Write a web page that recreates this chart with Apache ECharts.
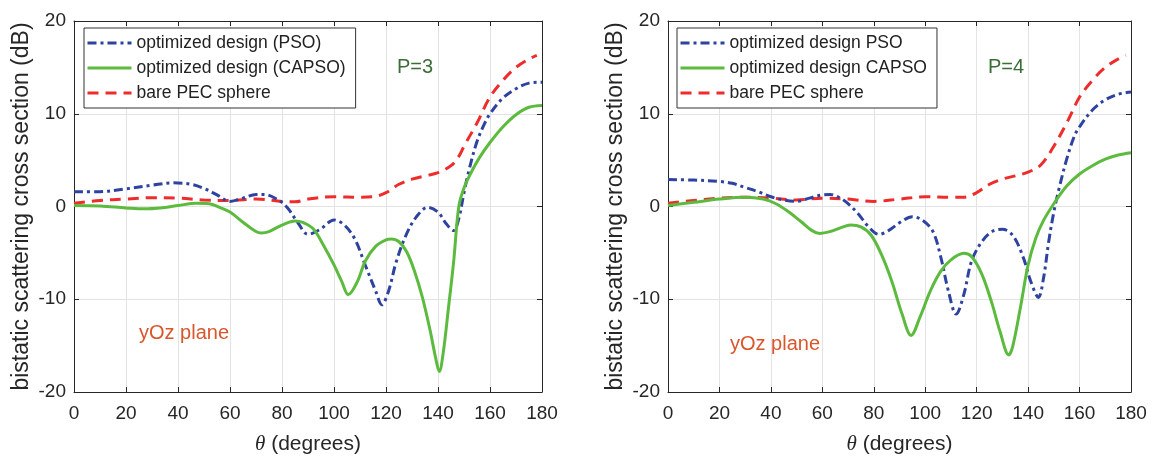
<!DOCTYPE html>
<html>
<head>
<meta charset="utf-8">
<script src="https://cdn.jsdelivr.net/npm/echarts@6/dist/echarts.min.js"></script>
<style>
html,body{margin:0;padding:0;background:#fff;}
#c{width:1153px;height:460px;}
</style>
</head>
<body>
<div id="c"></div>
<script>
// ---- data (theta in degrees, values in dB) ----
const xTicks = [0, 20, 40, 60, 80, 100, 120, 140, 160, 180];
const yTicks = [-20, -10, 0, 10, 20];

// Panel 1 (P=3)
const p3PsoTheta = [0,10,20,30,38,45,50,55,60,65,70,73,78,82,86,90,95,100,104,108,112,116,118.4,121,124,128,132,136,140,143,146,148,150,152,155,158,160,165,170,175,180];
const p3PsoVal   = [1.6,1.6,1.9,2.3,2.55,2.4,1.95,1.25,0.55,0.9,1.3,1.3,0.8,-0.1,-1.7,-3.0,-2.4,-1.45,-2.0,-3.5,-6.3,-9.1,-10.6,-9.1,-5.9,-2.9,-1.0,-0.1,-0.6,-1.8,-2.6,-1.3,1.5,4.0,7.0,9.0,10.0,11.7,12.7,13.3,13.4];

const p3CapsoTheta = [0,10,20,27,35,40,47,52,56,60,65,70,72,75,80,85,88,92,96,100,103,105.5,109,112,116,120,122,125,128,131,134,137,139,140.5,142,144,146,148,150,153,156,160,165,170,175,180];
const p3CapsoVal   = [0.1,0.05,-0.15,-0.25,-0.1,0.1,0.35,0.3,-0.1,-0.6,-1.7,-2.7,-2.85,-2.7,-2.0,-1.55,-1.7,-2.4,-4.2,-6.3,-8.1,-9.5,-8.1,-5.9,-4.3,-3.6,-3.5,-3.8,-4.9,-7.0,-9.8,-13.4,-16.2,-17.8,-15.8,-11.0,-6.0,0.0,2.0,3.8,5.3,6.9,8.6,9.9,10.7,10.9];

const p3PecTheta = [0,10,20,30,40,50,60,70,80,85,90,100,110,115,120,125,130,135,140,145,148,150,155,160,165,170,175,178];
const p3PecVal   = [0.35,0.65,0.8,0.95,0.9,0.7,0.65,0.8,0.55,0.5,0.8,1.05,1.0,1.05,1.5,2.4,2.95,3.3,3.65,4.4,5.4,6.5,9.0,11.8,13.6,15.0,15.9,16.3];

// Panel 2 (P=4)
const p4PsoTheta = [0,10,20,25,30,35,40,45,50,55,60,63,67,70,74,78,82,86,90,95,99,103,106,109,112,115,118,122,126,130,134,138,141,144,146,148,150,152,155,158,160,165,170,175,180];
const p4PsoVal   = [2.9,2.85,2.7,2.5,2.05,1.6,1.05,0.7,0.55,0.9,1.25,1.3,0.9,0.3,-0.8,-2.2,-3.0,-2.55,-1.75,-1.1,-1.5,-2.7,-5.4,-9.1,-11.6,-9.5,-5.9,-3.8,-2.7,-2.45,-3.1,-5.4,-8.05,-9.8,-7.7,-3.8,-0.6,1.9,5.1,7.6,8.6,10.4,11.5,12.1,12.35];

const p4CapsoTheta = [0,10,20,30,37,42,47,52,56,59,63,67,71,75,79,83,87,91,94.5,98,102,106,110,115,118,122,126,129,132.5,134,137,140,143,146,150,155,160,165,170,175,180];
const p4CapsoVal   = [0.1,0.45,0.8,1.0,0.8,0.3,-0.6,-1.7,-2.6,-2.9,-2.7,-2.3,-2.0,-2.2,-3.1,-5.2,-8.05,-11.6,-13.9,-11.9,-9.1,-7.0,-5.75,-5.05,-5.4,-7.3,-10.5,-13.4,-16.0,-15.1,-10.9,-6.3,-3.4,-1.5,0.3,2.2,3.5,4.4,5.1,5.55,5.8];

const p4PecTheta = [0,10,20,30,40,50,60,70,80,90,100,110,115,120,125,130,135,140,145,150,155,160,165,170,175,178];
const p4PecVal   = [0.35,0.65,0.9,1.0,0.9,0.7,0.9,0.8,0.55,0.8,1.05,1.0,1.0,1.5,2.4,2.95,3.3,3.7,4.5,6.5,9.0,11.8,13.6,15.0,15.9,16.3];

const legendP3 = ['optimized design (PSO)', 'optimized design (CAPSO)', 'bare PEC sphere'];
const legendP4 = ['optimized design PSO', 'optimized design CAPSO', 'bare PEC sphere'];

// ---- styles ----
const FONT = '"Liberation Sans", Arial, Helvetica, sans-serif';
const AX = '#262626';
const BLUE = '#2e43a0';
const GREEN = '#5cbb3e';
const RED = '#ee2c2c';

function pairs(t, v) { return t.map((x, i) => [x, v[i]]); }

const grids = [
  {left: 74, top: 21, width: 468, height: 379},
  {left: 668, top: 21, width: 463, height: 379}
];

function xMain(gi) {
  return {
    type: 'value', gridIndex: gi, min: 0, max: 180, interval: 20, position: 'bottom',
    axisLine: {show: true, onZero: false, lineStyle: {color: AX, width: 1}},
    axisTick: {show: true, inside: true, length: 5, lineStyle: {color: AX}},
    axisLabel: {show: true, color: AX, fontSize: 19, fontFamily: FONT, margin: 12},
    splitLine: {show: true, lineStyle: {color: '#e3e3e3', width: 1}},
    name: '{i|θ} (degrees)', nameLocation: 'middle', nameGap: 42,
    nameTextStyle: {color: AX, fontSize: 21, fontFamily: FONT,
      rich: {i: {fontStyle: 'italic', fontSize: 21, fontFamily: '"Liberation Serif", serif', color: AX}}}
  };
}
function xTop(gi) {
  return {
    type: 'value', gridIndex: gi, min: 0, max: 180, interval: 20, position: 'top',
    axisLine: {show: true, onZero: false, lineStyle: {color: AX, width: 1}},
    axisTick: {show: true, inside: true, length: 5, lineStyle: {color: AX}},
    axisLabel: {show: false}, splitLine: {show: false}
  };
}
function yMain(gi) {
  return {
    type: 'value', gridIndex: gi, min: -20, max: 20, interval: 10, position: 'left',
    axisLine: {show: true, onZero: false, lineStyle: {color: AX, width: 1}},
    axisTick: {show: true, inside: true, length: 5, lineStyle: {color: AX}},
    axisLabel: {show: true, color: AX, fontSize: 19, fontFamily: FONT, margin: 8},
    splitLine: {show: true, lineStyle: {color: '#e3e3e3', width: 1}},
    name: 'bistatic scattering cross section (dB)', nameLocation: 'middle', nameGap: 41,
    nameTextStyle: {color: AX, fontSize: 23, fontFamily: FONT}
  };
}
function yRight(gi) {
  return {
    type: 'value', gridIndex: gi, min: -20, max: 20, interval: 10, position: 'right',
    axisLine: {show: true, onZero: false, lineStyle: {color: AX, width: 1}},
    axisTick: {show: true, inside: true, length: 5, lineStyle: {color: AX}},
    axisLabel: {show: false}, splitLine: {show: false}
  };
}

function lineSeries(name, xi, data, color, type) {
  return {
    name: name, type: 'line', xAxisIndex: xi, yAxisIndex: xi,
    data: data, showSymbol: false, symbol: 'none', smooth: 0.35,
    lineStyle: {color: color, width: 3, type: type},
    itemStyle: {color: color}, z: 3
  };
}

const dashDot = [9, 4, 3, 4];
const dashed = [11, 7];

function legendOf(names, left) {
  return {
    data: names,
    orient: 'vertical', left: left, top: 28, itemWidth: 44, itemHeight: 14, itemGap: 7,
    padding: [6, 10, 6, 2], borderColor: '#333', borderWidth: 1, backgroundColor: '#fff',
    itemStyle: {color: 'rgba(0,0,0,0)', borderColor: 'rgba(0,0,0,0)', borderWidth: 0, opacity: 0},
    lineStyle: {width: 3},
    textStyle: {color: '#222', fontSize: 17.5, fontFamily: FONT}
  };
}

const option = {
  animation: false,
  backgroundColor: '#fff',
  grid: grids,
  xAxis: [xMain(0), xMain(1), xTop(0), xTop(1)],
  yAxis: [yMain(0), yMain(1), yRight(0), yRight(1)],
  legend: [legendOf(legendP3, 84), legendOf(legendP4, 677)],
  series: [
    lineSeries(legendP3[2], 0, pairs(p3PecTheta, p3PecVal), RED, dashed),
    lineSeries(legendP3[0], 0, pairs(p3PsoTheta, p3PsoVal), BLUE, dashDot),
    lineSeries(legendP3[1], 0, pairs(p3CapsoTheta, p3CapsoVal), GREEN, 'solid'),
    lineSeries(legendP4[2], 1, pairs(p4PecTheta, p4PecVal), RED, dashed),
    lineSeries(legendP4[0], 1, pairs(p4PsoTheta, p4PsoVal), BLUE, dashDot),
    lineSeries(legendP4[1], 1, pairs(p4CapsoTheta, p4CapsoVal), GREEN, 'solid')
  ],
  graphic: [
    {type: 'text', left: 397, top: 57, style: {text: 'P=3', fill: '#3b6e35', fontSize: 20, fontFamily: FONT}},
    {type: 'text', left: 139, top: 323, style: {text: 'yOz plane', fill: '#d9562c', fontSize: 20, fontFamily: FONT}},
    {type: 'text', left: 988, top: 57, style: {text: 'P=4', fill: '#3b6e35', fontSize: 20, fontFamily: FONT}},
    {type: 'text', left: 730, top: 334, style: {text: 'yOz plane', fill: '#d9562c', fontSize: 20, fontFamily: FONT}}
  ]
};

const chart = echarts.init(document.getElementById('c'), null, {renderer: 'canvas'});
chart.setOption(option);
</script>
</body>
</html>
